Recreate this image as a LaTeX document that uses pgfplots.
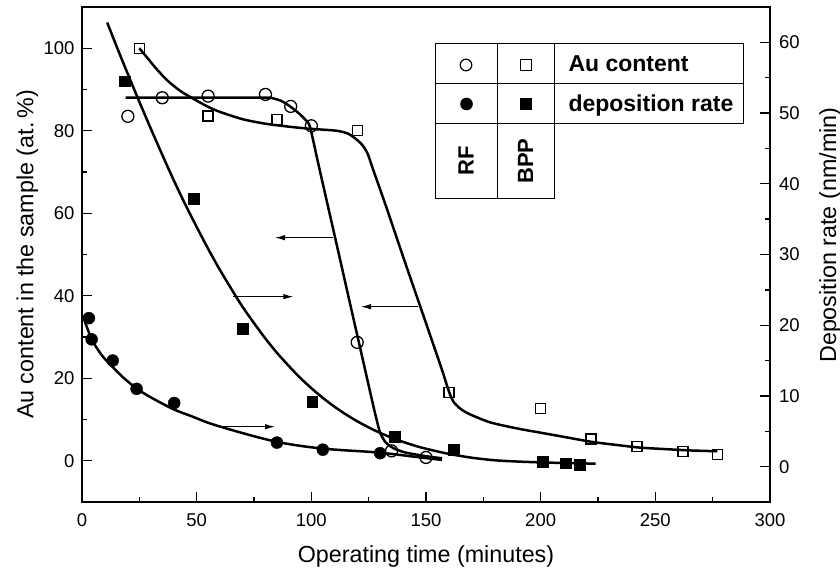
\documentclass[border=0pt]{standalone}
\usepackage{fontspec}
\setmainfont{Liberation Sans}
\usepackage{pgfplots}
\pgfplotsset{compat=1.18}
\usetikzlibrary{arrows.meta}
\begin{document}
\begin{tikzpicture}
\path[use as bounding box] (-82pt,-67pt) rectangle (758pt,502pt);
\pgfplotsset{
  common/.style={
    width=688pt, height=495pt, scale only axis,
    xmin=0, xmax=300, clip=false,
    axis line style={line width=1.8pt},
    every tick/.style={black, line width=1.4pt},
    major tick length=10pt, minor tick length=5pt,
    /pgf/number format/assume math mode=true,
    tick label style={font=\fontsize{18.5}{20}\selectfont},
    label style={font=\fontsize{23.3}{26}\selectfont},
  },
  curve/.style={black, line width=2.5pt, smooth, tension=0.45, no markers},
  ocirc/.style={only marks, mark=o, mark size=6pt, mark options={line width=1.3pt, black}},
  fcirc/.style={only marks, mark=*, mark size=6pt, mark options={black, fill=black}},
  osq/.style={only marks, mark=square, mark size=5pt, mark options={line width=1.3pt, black}},
  fsq/.style={only marks, mark=square*, mark size=5.3pt, mark options={black, fill=black}},
}
% ---------- left axis: Au content ----------
\begin{axis}[common,
  ymin=-10, ymax=110,
  xtick={0,50,...,300}, minor x tick num=1,
  ytick={0,20,...,100}, minor y tick num=1,
  xtick pos=left, ytick pos=left,
  tick align=inside,
  xticklabel style={yshift=-8pt},
  yticklabel style={xshift=-4pt},
  xlabel={Operating time (minutes)},
  ylabel={Au content in the sample (at.\,\%)},
  xlabel style={at={([yshift=-61pt]axis description cs:0.5,0)}, anchor=base},
  ylabel style={at={([xshift=-48.7pt]axis description cs:0,0.5)}, anchor=base},
]
% RF Au content curve
\addplot[curve] coordinates {
(19,88) (30,88) (45,88) (60,88) (75,88) (82,88) (87,87.2) (91,85.8) (95,84)
(98,82.3) (99.5,80.8) (103,72.1) (107,62.3) (112,50.1) (117,37.8) (122,25.6)
(126,15.8) (128,11) (130,6.8) (132.5,4.4) (136,3.0) (141,2.0) (150,1.1) (157,0.6)
};
% BPP Au content curve
\addplot[curve] coordinates {
(25,100) (28,98) (32,95.3) (37,92.3) (43,89.6) (50,87.3) (55,85.8) (60,84.6)
(70,82.8) (80,81.7) (90,81) (99,80.5) (111,80) (116,79.3) (119,78.2) (122,76.7)
(124.5,74.5) (127,70.5) (133,61) (140,49.5) (147,38.2) (153,28.5) (157,22)
(160,16.8) (162,14.3) (165,12.6) (169,11.3) (178,9.3) (190,7.8) (200,6.8)
(210,5.8) (222,4.6) (232,3.9) (243,3.2) (255,2.8) (265,2.5) (277,2.3)
};
% RF Au content data
\addplot[ocirc] coordinates {
(20,83.5) (35,88) (55,88.4) (80,88.8) (91,85.9) (100,81.2) (120,28.7) (135,2.4) (150,0.8)
};
% BPP Au content data
\addplot[osq] coordinates {
(25,100) (55,83.6) (85,82.8) (120,80.1) (160,16.5) (200,12.7) (222,5.3) (242,3.4) (262,2.3) (277,1.5)
};
\end{axis}
% ---------- right axis: deposition rate ----------
\begin{axis}[common,
  ymin=-5, ymax=65,
  axis x line=none,
  axis y line*=right,
  y axis line style={-, line width=1.8pt},
  ytick={0,10,...,60}, minor y tick num=1,
  tick align=inside,
  yticklabel style={xshift=5.5pt},
  ylabel={Deposition rate (nm/min)},
  ylabel style={at={([xshift=66pt]axis description cs:1,0.539)}, anchor=base},
]
% RF deposition rate curve
\addplot[curve, tension=0.5] coordinates {
(1.2,20.6) (2.5,19.4) (4,18.2) (6,17.0) (9,15.6) (13,14.2) (18,12.6) (24,11)
(30,9.8) (40,8.1) (48,7.1) (55,6.2) (63,5.4) (75,4.3) (85,3.5) (95,2.95) (105,2.55)
(115,2.3) (125,2.1) (135,1.8) (145,1.4) (157,0.95)
};
% BPP deposition rate curve
\addplot[curve, tension=0.5] coordinates {
(11,62.8) (15,59.5) (20,55.5) (25,51.6) (30,47.8) (35,44.1) (40,40.5) (45,37.1)
(50,33.9) (55,30.8) (60,27.9) (65,25.2) (70,22.6) (75,20.3) (80,18.1) (85,16.1)
(90,14.3) (95,12.6) (100,11.1) (105,9.73) (110,8.5) (115,7.4) (120,6.42) (125,5.55)
(130,4.77) (135,4.1) (140,3.5) (145,2.98) (150,2.53) (160,1.8) (170,1.26) (180,0.9)
(190,0.72) (200,0.6) (212,0.5) (224,0.42)
};
% RF deposition rate data
\addplot[fcirc] coordinates {
(3,21.0) (4.2,18.0) (13.4,15.0) (23.8,11.0) (40.2,9.0) (85,3.4) (105,2.4) (130,1.9)
};
% BPP deposition rate data
\addplot[fsq] coordinates {
(18.7,54.5) (48.8,37.9) (70,19.5) (100.3,9.2) (136.4,4.2) (162,2.4) (201,0.7) (210.8,0.5) (217,0.25)
};
\end{axis}
% ---------- arrows ----------
\begin{scope}[line width=1pt, -{Latex[length=10pt,width=5.5pt]}]
\draw (251.3pt,264.3pt) -- (193pt,264.3pt);
\draw (151.3pt,205.3pt) -- (211.3pt,205.3pt);
\draw (336.3pt,195.3pt) -- (279pt,195.3pt);
\draw (139.7pt,75.3pt) -- (193pt,75.3pt);
\end{scope}
% ---------- legend table ----------
\begin{scope}[line width=1pt]
\draw (353pt,458pt) -- (661pt,458pt) -- (661pt,378pt) -- (353pt,378pt);
\draw (353pt,418.7pt) -- (661pt,418.7pt);
\draw (353pt,458pt) -- (353pt,303.7pt) -- (472pt,303.7pt) -- (472pt,458pt);
\draw (415.3pt,458pt) -- (415.3pt,303.7pt);
\end{scope}
\draw[line width=1.2pt] (384pt,437pt) circle (5.8pt);
\draw[line width=1.2pt] (438.5pt,431.5pt) rectangle (449.5pt,442.5pt);
\fill (384.5pt,398pt) circle (6.3pt);
\fill (438.2pt,392.2pt) rectangle (449.8pt,403.8pt);
\node[anchor=base west, font=\bfseries\fontsize{23}{26}\selectfont, inner sep=0pt] at (486.3pt,430.3pt) {Au content};
\node[anchor=base west, font=\bfseries\fontsize{23}{26}\selectfont, inner sep=0pt] at (486.3pt,390.3pt) {deposition rate};
\node[rotate=90, font=\bfseries\fontsize{22}{24}\selectfont, inner sep=0pt] at (384pt,341pt) {RF};
\node[rotate=90, font=\bfseries\fontsize{22}{24}\selectfont, inner sep=0pt] at (443.6pt,341pt) {BPP};
\end{tikzpicture}
\end{document}
